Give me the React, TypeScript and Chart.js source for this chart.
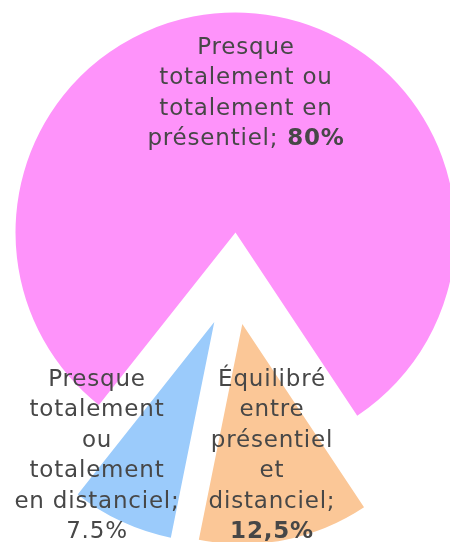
import React, { useEffect, useRef } from "react";
import { Chart, registerables } from "chart.js";

Chart.register(...registerables);

const categories = [
  "Presque totalement ou totalement en présentiel",
  "Équilibré entre présentiel et distanciel",
  "Presque totalement ou totalement en distanciel",
];
const shares = [80, 12.5, 7.5];
const valueLabels = ["80%", "12,5%", "7.5%"];
const labelLines = [
  ["Presque", "totalement ou", "totalement en", "présentiel;"],
  ["Équilibré", "entre", "présentiel", "et", "distanciel;"],
  ["Presque", "totalement", "ou", "totalement", "en distanciel;"],
];
const valueBold = [true, true, false];
const valueInline = [true, false, false];
const colors = ["#FE93FA", "#FBC797", "#9BCBFB"];

const W = 450;
const H = 542;
const RADIUS = 220;
const ROTATION = 218.4;
// exploded centre of each slice (layout only)
const sliceCentres = [
  [235.5, 232.5],
  [242.3, 324],
  [214.3, 322],
];
const labelAnchors = [
  [246, 48],
  [272, 380],
  [97, 380],
];
const LINE_H = 30.5;
const FONT_FAMILY = "'DejaVu Sans', sans-serif";
const FONT_SIZE = 23;
const TEXT_COLOR = "#474747";

const labelPlugin = {
  id: "sliceLabels",
  afterDraw(chart: any) {
    const ctx = chart.ctx as CanvasRenderingContext2D;
    ctx.save();
    ctx.textBaseline = "middle";
    ctx.textAlign = "left";
    ctx.fillStyle = TEXT_COLOR;
    (ctx as any).letterSpacing = "0.8px";
    const normal = `normal ${FONT_SIZE}px ${FONT_FAMILY}`;
    const bold = `bold ${FONT_SIZE}px ${FONT_FAMILY}`;
    labelLines.forEach((lines, i) => {
      const [ax, ay] = labelAnchors[i];
      const rows: { parts: { t: string; f: string }[] }[] = lines.map((l) => ({
        parts: [{ t: l, f: normal }],
      }));
      const vFont = valueBold[i] ? bold : normal;
      if (valueInline[i]) {
        rows[rows.length - 1].parts.push({ t: " " + valueLabels[i], f: vFont });
      } else {
        rows.push({ parts: [{ t: valueLabels[i], f: vFont }] });
      }
      rows.forEach((row, r) => {
        let total = 0;
        const widths = row.parts.map((p) => {
          ctx.font = p.f;
          const w = ctx.measureText(p.t).width;
          total += w;
          return w;
        });
        let x = ax - total / 2;
        const y = ay + r * LINE_H;
        row.parts.forEach((p, k) => {
          ctx.font = p.f;
          ctx.fillText(p.t, x, y);
          x += widths[k];
        });
      });
    });
    ctx.restore();
  },
};

function makeConfig(visibleIndex: number, withLabels: boolean): any {
  const [cx, cy] = sliceCentres[visibleIndex];
  return {
    type: "pie",
    data: {
      labels: categories,
      datasets: [
        {
          data: shares,
          backgroundColor: colors.map((c, i) => (i === visibleIndex ? c : "rgba(0,0,0,0)")),
          borderWidth: 0,
          clip: false,
        },
      ],
    },
    options: {
      responsive: false,
      maintainAspectRatio: false,
      animation: false,
      rotation: ROTATION,
      radius: RADIUS,
      layout: {
        padding: {
          left: Math.max(0, 2 * cx - W),
          right: Math.max(0, W - 2 * cx),
          top: Math.max(0, 2 * cy - H),
          bottom: Math.max(0, H - 2 * cy),
        },
      },
      plugins: {
        legend: { display: false },
        tooltip: { enabled: false },
      },
    },
    plugins: withLabels ? [labelPlugin] : [],
  };
}

export default function App() {
  const c0 = useRef<HTMLCanvasElement>(null);
  const c1 = useRef<HTMLCanvasElement>(null);
  const c2 = useRef<HTMLCanvasElement>(null);

  useEffect(() => {
    document.body.style.margin = "0";
    const refs = [c0, c1, c2];
    const charts = refs.map((r, i) => new Chart(r.current as HTMLCanvasElement, makeConfig(i, i === 2)));
    return () => charts.forEach((c) => c.destroy());
  }, []);

  const style: React.CSSProperties = { position: "absolute", left: 0, top: 0 };
  return (
    <div style={{ position: "relative", width: W, height: H, background: "#fff" }}>
      <canvas ref={c0} width={W} height={H} style={style} />
      <canvas ref={c1} width={W} height={H} style={style} />
      <canvas ref={c2} width={W} height={H} style={style} />
    </div>
  );
}
